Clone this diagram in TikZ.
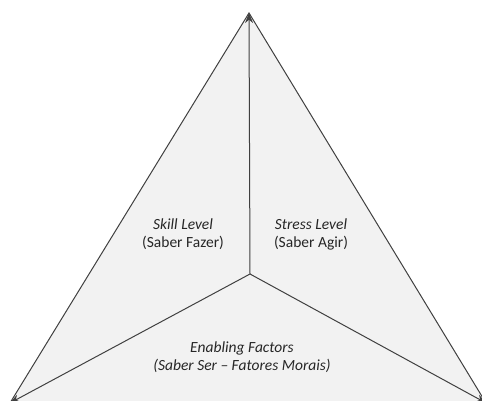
\documentclass[tikz,border=0pt]{standalone}
\usepackage{fontspec}
\setmainfont{Carlito}
\usepackage{tikz}
\usetikzlibrary{arrows.meta}

\begin{document}
\begin{tikzpicture}[x=1pt,y=-1pt,
                    edge/.style={draw=black!75,line width=1pt},
                    axis/.style={edge,-{Stealth[length=10pt,width=8pt]}},
                    label/.style={align=center,font=\fontsize{15.5}{18}\selectfont,text=black!85}]
                    \useasboundingbox (0,0) rectangle (482,401);
                    \coordinate (top) at (249,13);
                    \coordinate (left) at (10,403);
                    \coordinate (right) at (486,403);
                    \coordinate (mid) at (250,274);
                    \fill[black!5] (top) -- (left) -- (right) -- cycle;
                    \draw[edge] (left) -- (top) -- (right);
                    \draw[axis] (mid) -- (top);
                    \draw[axis] (mid) -- (left);
                    \draw[axis] (mid) -- (right);
                    \node[label] (skill) at (183,234) {\textit{Skill Level}\\(Saber Fazer)};
                    \node[label] (stress) at (311,234) {\textit{Stress Level}\\(Saber Agir)};
                    \node[label] (enabling) at (242,357) {\textit{Enabling Factors}\\\textit{(Saber Ser – Fatores Morais)}};
                \end{tikzpicture}
\end{document}
